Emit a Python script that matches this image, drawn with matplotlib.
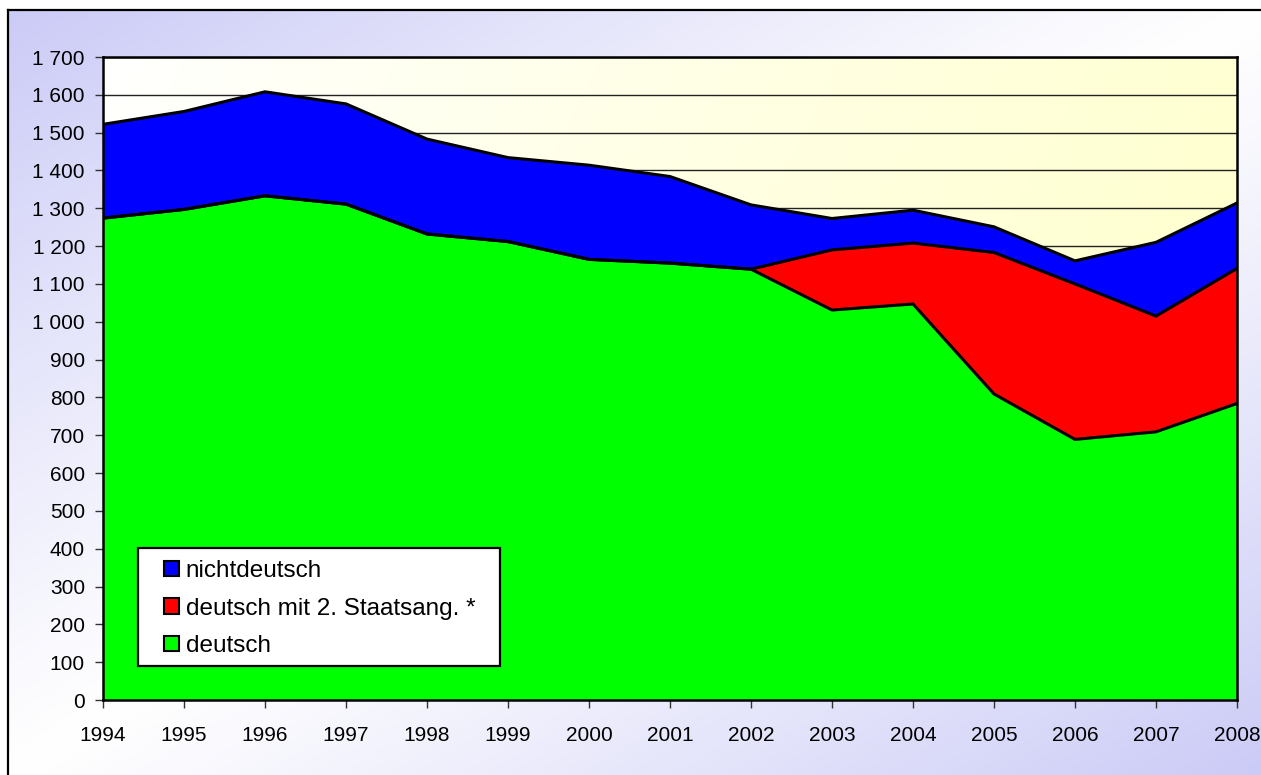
import numpy as np
import matplotlib
matplotlib.use('Agg')
import matplotlib.pyplot as plt
from matplotlib.colors import to_rgb
from matplotlib.ticker import FuncFormatter, MultipleLocator
from matplotlib.patches import Patch, Rectangle
from matplotlib.lines import Line2D

# ---- data ----
years = [1994, 1995, 1996, 1997, 1998, 1999, 2000, 2001, 2002, 2003, 2004, 2005, 2006, 2007, 2008]
deutsch = [1274, 1297, 1333, 1311, 1232, 1212, 1165, 1155, 1139, 1031, 1047, 809, 689, 709, 784]
deutsch_2 = [0, 0, 0, 0, 0, 0, 0, 0, 0, 159, 161, 374, 411, 306, 357]
nichtdeutsch = [248, 259, 275, 265, 251, 222, 249, 229, 170, 83, 87, 68, 61, 195, 173]
series_labels = ['deutsch', 'deutsch mit 2. Staatsang. *', 'nichtdeutsch']
series_colors = ['#00ff00', '#ff0000', '#0000ff']

plt.rcParams['font.family'] = ['Liberation Sans', 'DejaVu Sans']

W, H = 1261, 775
fig = plt.figure(figsize=(W / 100, H / 100), dpi=100)

# ---- figure background gradient ----
bx0 = 8 / W
by1 = 1 - 10 / H
bg = fig.add_axes([bx0, 0, 1 - bx0, by1], zorder=-10)
xx, yy = np.meshgrid(np.linspace(0, 1, 400), np.linspace(0, 1, 250))
t = np.abs(xx + yy - 1) ** 1.1
c_l = np.array(to_rgb('#cbcbf7'))
c_w = np.array(to_rgb('#ffffff'))
img = c_w + (c_l - c_w) * t[..., None]
bg.imshow(img, aspect='auto', extent=[0, 1, 0, 1], origin='upper', interpolation='bilinear')
bg.set_xlim(0, 1)
bg.set_ylim(0, 1)
bg.axis('off')

fig.add_artist(Line2D([bx0, bx0], [0, by1], transform=fig.transFigure, color='black', lw=1.6))
fig.add_artist(Line2D([bx0, 1], [by1, by1], transform=fig.transFigure, color='black', lw=1.6))

# ---- main axes ----
AX_L, AX_T, AX_W, AX_H = 103, 57, 1134, 643
ax = fig.add_axes([AX_L / W, (H - AX_T - AX_H) / H, AX_W / W, AX_H / H])
ax.set_xlim(years[0], years[-1])
ax.set_ylim(0, 1700)

# plot area gradient
gx, gy = np.meshgrid(np.linspace(0, 1, 300), np.linspace(0, 1, 100))
tt = np.clip(0.85 * gx + 0.25 * gy, 0, 1) ** 0.9
c_y = np.array(to_rgb('#ffffcc'))
pimg = c_w + (c_y - c_w) * tt[..., None]
ax.imshow(pimg, aspect='auto', extent=[years[0], years[-1], 0, 1700], origin='upper',
          interpolation='bilinear', zorder=0)

ax.set_axisbelow(True)
ax.yaxis.grid(True, color='#222222', lw=1.0, zorder=0.5)
ax.xaxis.grid(False)

ax.stackplot(years, deutsch, deutsch_2, nichtdeutsch, colors=series_colors,
             labels=series_labels, zorder=2, lw=0)

s1 = np.array(deutsch)
s2 = s1 + np.array(deutsch_2)
s3 = s2 + np.array(nichtdeutsch)
for s in (s1, s2, s3):
    ax.plot(years, s, color='black', lw=2.2, zorder=3, solid_joinstyle='miter', clip_on=True)

ax.yaxis.set_major_locator(MultipleLocator(100))
ax.set_xticks(years)
ax.yaxis.set_major_formatter(FuncFormatter(lambda v, p: f'{int(v):,}'.replace(',', ' ')))
ax.tick_params(axis='y', direction='out', length=6, width=1, labelsize=15, pad=7, color='#333333')
ax.tick_params(axis='x', direction='out', length=6, width=1, labelsize=15, pad=13, color='#333333')

for sp in ax.spines.values():
    sp.set_color('black')
    sp.set_linewidth(1.8)
    sp.set_zorder(4)

# ---- legend ----
def px2ax(px, py):
    return ((px - AX_L) / AX_W, (AX_T + AX_H - py) / AX_H)

lx0, ly0 = px2ax(138, 666)
lx1, ly1 = px2ax(500, 548)
ax.add_patch(Rectangle((lx0, ly0), lx1 - lx0, ly1 - ly0, transform=ax.transAxes,
                       facecolor='white', edgecolor='black', lw=1.6, zorder=5))

handles = [Patch(facecolor=series_colors[2], edgecolor='black', lw=1.5),
           Patch(facecolor=series_colors[1], edgecolor='black', lw=1.5),
           Patch(facecolor=series_colors[0], edgecolor='black', lw=1.5)]
labs = [series_labels[2], series_labels[1], series_labels[0]]
ancx, ancy = px2ax(164, 560)
leg = ax.legend(handles, labs, loc='upper left', bbox_to_anchor=(ancx, ancy),
                fontsize=17.5, frameon=False,
                handlelength=0.6, handleheight=0.6, handletextpad=0.3,
                labelspacing=0.64, borderpad=0.0, borderaxespad=0.0)
leg.set_zorder(6)

fig.savefig('out.png', dpi=100)
